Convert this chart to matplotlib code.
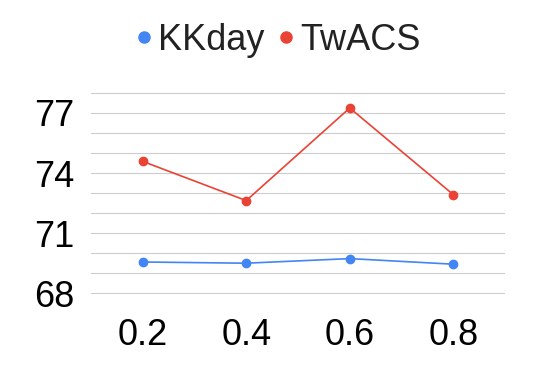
import matplotlib
matplotlib.use("Agg")
import matplotlib.pyplot as plt
from matplotlib.lines import Line2D

categories = ["0.2", "0.4", "0.6", "0.8"]
kkday = [69.55, 69.49, 69.72, 69.44]
twacs = [74.58, 72.62, 77.25, 72.92]
yticks = [68, 71, 74, 77]

blue = "#4285F4"
red = "#EA4335"

plt.rcParams['font.family'] = ['Liberation Sans', 'DejaVu Sans']

fig = plt.figure(figsize=(5.54, 3.71), dpi=100)
ax = fig.add_axes([91/554, 1 - 294/371, 414/554, 202/371])

x = list(range(len(categories)))
ax.plot(x, kkday, color=blue, lw=1.2, marker='o', ms=6, zorder=3)
ax.plot(x, twacs, color=red, lw=1.2, marker='o', ms=6, zorder=3)

ax.set_xlim(-0.5, len(categories) - 0.5)
ax.set_ylim(67.95, 78.05)
ax.set_yticks(range(68, 79), minor=True)
ax.set_yticks(yticks)
ax.set_yticklabels([str(v) for v in yticks], fontsize=26)
ax.set_xticks(x)
ax.set_xticklabels(categories, fontsize=26)
ax.grid(axis='y', which='both', color='#cccccc', lw=0.8)
ax.set_axisbelow(True)
ax.tick_params(axis='both', which='both', length=0)
ax.tick_params(axis='y', pad=12)
ax.tick_params(axis='x', pad=17)
for s in ax.spines.values():
    s.set_visible(False)

handles = [Line2D([], [], color=blue, marker='o', ls='none', ms=8),
           Line2D([], [], color=red, marker='o', ls='none', ms=8)]
fig.legend(handles, ["KKday", "TwACS"], loc='center', bbox_to_anchor=(275/554, 1 - 40/371),
           ncol=2, frameon=False, fontsize=26, handletextpad=0.0, columnspacing=0.2,
           handlelength=0.8, labelcolor='#222222')

fig.savefig("out.png", dpi=100)
